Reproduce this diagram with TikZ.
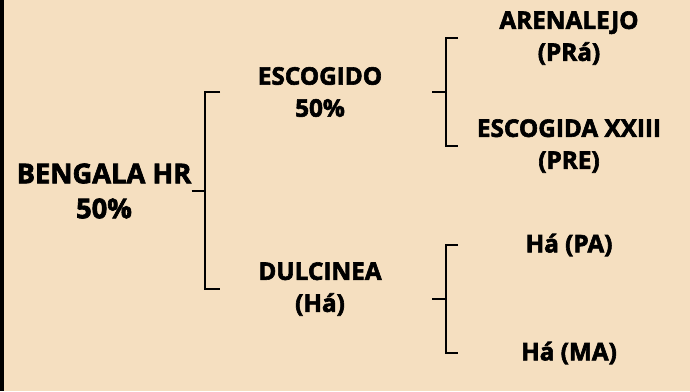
\documentclass[tikz,border=0pt]{standalone}
\usepackage{fontspec}
\setmainfont{Open Sans}[BoldFeatures={FakeBold=2.5}]
\usetikzlibrary{positioning, calc}

\definecolor{paper}{RGB}{245,223,192}

\begin{document}
\begin{tikzpicture}[
    x=1pt, y=-1pt,
    parent/.style={
        inner sep=0pt, align=center, text=black,
        font=\fontsize{27.3}{35}\selectfont\bfseries
    },
    child/.style={
        inner sep=0pt, align=center, text=black,
        font=\fontsize{24.3}{32}\selectfont\bfseries
    },
    bracket/.style={draw=black, line width=2pt}
]

% Background
\fill[paper] (0,0) rectangle (690,391);
\fill[black] (0,0) rectangle (4,391);
\useasboundingbox (0,0) rectangle (690,391);

% Level 1
\node[parent] (bengala) at (104,191) {BENGALA HR\\50\%};

% Level 2
\node[child] (escogido) at (320,92) {ESCOGIDO\\50\%};
\node[child] (dulcinea) at (320,289) {DULCINEA\\(Há)};

% Level 3
\node[child] (arenalejo) at (569,38) {ARENALEJO\\(PRá)};
\node[child] (escogida) at (569,146) {ESCOGIDA XXIII\\(PRE)};
\node[child] (hapa) at (569,245) {Há (PA)};
\node[child] (hama) at (569,353) {Há (MA)};

% Bracket columns
\coordinate (col1) at (205,0);
\coordinate (col2) at (446,0);

% Bracket 1
\coordinate (m1) at ($(col1 |- escogido)!0.5!(col1 |- dulcinea)$);
\draw[bracket] ([xshift=15pt]col1 |- escogido) -- (col1 |- escogido)
    -- (col1 |- dulcinea) -- ([xshift=15pt]col1 |- dulcinea);
\draw[bracket] (bengala.east |- m1) -- (m1);

% Bracket 2
\coordinate (m2) at ($(col2 |- arenalejo)!0.5!(col2 |- escogida)$);
\draw[bracket] ([xshift=12pt]col2 |- arenalejo) -- (col2 |- arenalejo)
    -- (col2 |- escogida) -- ([xshift=12pt]col2 |- escogida);
\draw[bracket] ([xshift=-14pt]m2) -- (m2);

% Bracket 3
\coordinate (m3) at ($(col2 |- hapa)!0.5!(col2 |- hama)$);
\draw[bracket] ([xshift=12pt]col2 |- hapa) -- (col2 |- hapa)
    -- (col2 |- hama) -- ([xshift=12pt]col2 |- hama);
\draw[bracket] ([xshift=-14pt]m3) -- (m3);

\end{tikzpicture}
\end{document}
